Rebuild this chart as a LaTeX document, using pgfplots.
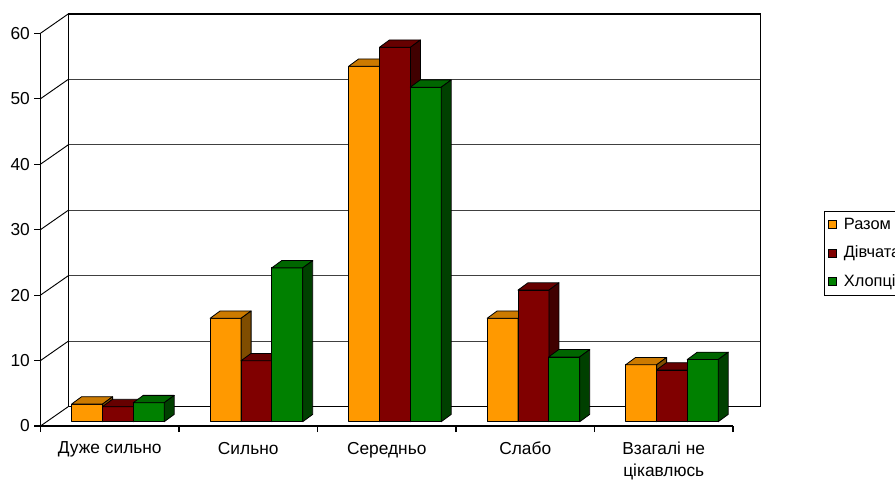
\documentclass[border=0pt]{standalone}
\usepackage{fontspec}
\setmainfont{Liberation Sans}
\usepackage{pgfplots}
\usepackage{pgfplotstable}
\pgfplotsset{compat=1.18}

\definecolor{orF}{HTML}{FF9900}
\definecolor{orT}{HTML}{CC7A00}
\definecolor{orS}{HTML}{804D00}
\definecolor{mrF}{HTML}{800000}
\definecolor{mrT}{HTML}{660000}
\definecolor{mrS}{HTML}{400000}
\definecolor{grF}{HTML}{008000}
\definecolor{grT}{HTML}{006600}
\definecolor{grS}{HTML}{004000}
\definecolor{gridc}{HTML}{404040}

\pgfplotstableread{
x raz div khl
0 2.7 2.3 2.9
1 15.8 9.3 23.5
2 54.3 57.2 51.1
3 15.8 20.1 9.9
4 8.7 7.9 9.5
}\data

\pgfdeclareplotmark{nothing}{}

\newcommand\barcode[3]{%
  \fill[#1,draw=black,line width=0.6pt,line join=round] (-11.625pt,{-\val*4.909pt}) rectangle (11.625pt,0pt);
  \fill[#2,draw=black,line width=0.6pt,line join=round] (-11.625pt,0pt) -- (-4.125pt,5.5pt) -- (19.125pt,5.5pt) -- (11.625pt,0pt) -- cycle;
  \fill[#3,draw=black,line width=0.6pt,line join=round] (11.625pt,0pt) -- (19.125pt,5.5pt) -- (19.125pt,{5.5pt-\val*4.909pt}) -- (11.625pt,{-\val*4.909pt}) -- cycle;
}
\pgfplotsset{
  bar3d/.style n args={4}{
    scatter, only marks, mark=nothing,
    visualization depends on={\thisrow{#1}\as\val},
    scatter/@pre marker code/.code={\barcode{#2}{#3}{#4}},
    scatter/@post marker code/.code={},
    legend image code/.code={\draw[fill=#2,draw=black,line width=0.6pt] (0pt,-3pt) rectangle (6pt,3pt);},
  },
}
\newcommand\lblfont{\fontsize{13}{16.2}\selectfont}
\newcommand\legfont{\fontsize{12.3}{15}\selectfont}

\begin{document}
\begin{tikzpicture}
\begin{axis}[
  x=103.875pt, y=4.909pt,
  xmin=0, xmax=5, ymin=0, ymax=60,
  clip=false,
  axis lines*=left,
  axis line style={black, line width=0.8pt, -},
  tick align=outside,
  xtick={0,1,2,3,4,5},
  xticklabels={,,,,,},
  extra x ticks={0.5,1.5,2.5,3.5,4.5},
  extra x tick labels={Дуже сильно, Сильно, Середньо, Слабо, {Взагалі не\\цікавлюсь}},
  extra x tick style={major tick length=0pt},
  ytick={0,10,...,60},
  major tick length=4.5pt,
  tick style={black, line width=0.8pt},
  xticklabel style={align=center, font=\lblfont, yshift=-8.5pt},
  yticklabel style={font=\lblfont},
  /pgf/number format/assume math mode=true,
  legend style={at={(rel axis cs:1.1314,0.5475)}, anchor=north west, draw=black, line width=0.6pt, font=\legfont, row sep=7pt, column sep=3pt, inner sep=3pt},
  legend cell align=left,
]
% back wall
\addplot[forget plot, gridc, line width=0.75pt] coordinates {(0.2,12.95) (5.2,12.95)};
\addplot[forget plot, gridc, line width=0.75pt] coordinates {(0.2,22.95) (5.2,22.95)};
\addplot[forget plot, gridc, line width=0.75pt] coordinates {(0.2,32.95) (5.2,32.95)};
\addplot[forget plot, gridc, line width=0.75pt] coordinates {(0.2,42.95) (5.2,42.95)};
\addplot[forget plot, gridc, line width=0.75pt] coordinates {(0.2,52.95) (5.2,52.95)};
\addplot[forget plot, black, line width=0.8pt] coordinates {(0.2,62.95) (5.2,62.95)};
\addplot[forget plot, black, line width=0.8pt] coordinates {(0.2,2.95) (5.2,2.95)};
\addplot[forget plot, black, line width=0.8pt] coordinates {(0.2,2.95) (0.2,62.95)};
\addplot[forget plot, black, line width=0.8pt] coordinates {(5.2,2.95) (5.2,62.95)};
% left wall diagonals
\addplot[forget plot, black, line width=0.7pt] coordinates {(0,0) (0.2,2.95)};
\addplot[forget plot, black, line width=0.7pt] coordinates {(0,10) (0.2,12.95)};
\addplot[forget plot, black, line width=0.7pt] coordinates {(0,20) (0.2,22.95)};
\addplot[forget plot, black, line width=0.7pt] coordinates {(0,30) (0.2,32.95)};
\addplot[forget plot, black, line width=0.7pt] coordinates {(0,40) (0.2,42.95)};
\addplot[forget plot, black, line width=0.7pt] coordinates {(0,50) (0.2,52.95)};
\addplot[forget plot, black, line width=0.7pt] coordinates {(0,60) (0.2,62.95)};
% bars
\addplot[bar3d={raz}{orF}{orT}{orS}] table[x expr=\thisrow{x}+0.559-0.2224, y expr=\thisrow{raz}+0.657] {\data};
\addlegendentry{Разом}
\addplot[bar3d={div}{mrF}{mrT}{mrS}] table[x expr=\thisrow{x}+0.559, y expr=\thisrow{div}+0.657] {\data};
\addlegendentry{Дівчата}
\addplot[bar3d={khl}{grF}{grT}{grS}] table[x expr=\thisrow{x}+0.559+0.2224, y expr=\thisrow{khl}+0.657] {\data};
\addlegendentry{Хлопці}
\coordinate (O) at (axis cs:0,0);
\end{axis}
\pgfresetboundingbox
\path (O) ++(-30.375pt,-40.5pt) rectangle ++(671.25pt,360pt);
\end{tikzpicture}
\end{document}
